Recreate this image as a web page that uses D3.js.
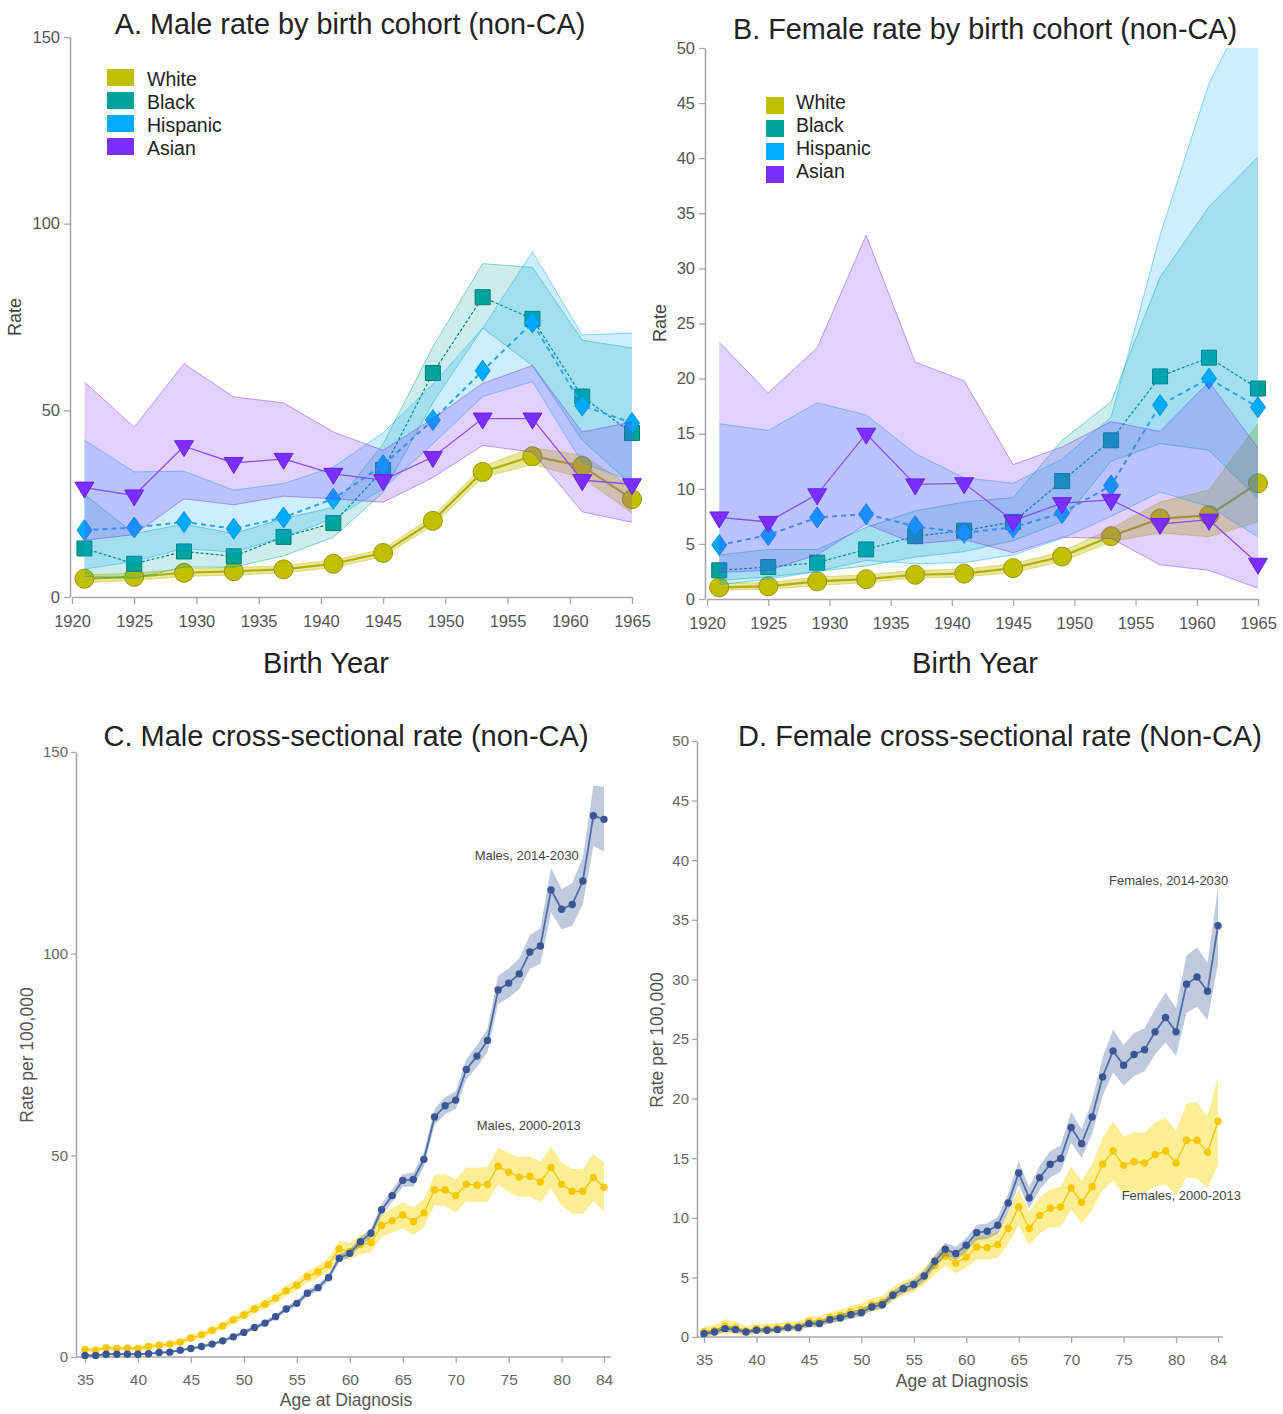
<!DOCTYPE html>
<html>
<head>
<meta charset="utf-8">
<script src="https://cdnjs.cloudflare.com/ajax/libs/d3/7.8.5/d3.min.js"></script>
<style>
  body { margin: 0; background: #fff; }
  svg { display: block; }
  text { font-family: "Liberation Sans", Arial, Helvetica, sans-serif; }
</style>
</head>
<body>
<svg id="chart" width="1283" height="1414"></svg>
<script>
// ---------- Birth-cohort panels (A, B) ----------
const cohortYears = [1921, 1925, 1929, 1933, 1937, 1941, 1945, 1949, 1953, 1957, 1961, 1965];
const cohortTicks = [1920, 1925, 1930, 1935, 1940, 1945, 1950, 1955, 1960, 1965];
const raceNames = ["White", "Black", "Hispanic", "Asian"];

// Male rates by birth cohort, with confidence limits
const maleWhite   = [4.9, 5.4, 6.5, 6.9, 7.4, 8.9, 11.8, 20.4, 33.5, 37.7, 35.1, 26.2];
const maleWhiteLo = [3.9, 4.4, 5.5, 5.9, 6.4, 7.9, 10.8, 19.2, 32.0, 35.5, 32.0, 22.5];
const maleWhiteHi = [5.9, 6.4, 7.5, 7.9, 8.4, 9.9, 12.8, 21.6, 35.0, 40.0, 38.0, 29.5];
const maleBlack   = [13.0, 8.9, 12.2, 10.9, 16.1, 19.8, 34.0, 60.0, 80.3, 74.5, 53.7, 43.9];
const maleBlackLo = [5.5, 5.0, 8.0, 8.0, 11.0, 16.0, 28.0, 52.0, 72.0, 62.0, 42.0, 30.0];
const maleBlackHi = [27.5, 17.0, 19.5, 17.0, 21.0, 24.0, 41.0, 67.0, 89.3, 88.3, 68.8, 66.7];
const maleHisp    = [17.9, 18.6, 20.1, 18.3, 21.3, 26.3, 35.3, 47.4, 60.6, 73.5, 51.3, 46.6];
const maleHispLo  = [7.5, 9.5, 13.0, 12.0, 16.0, 21.0, 29.0, 41.0, 53.7, 57.7, 36.0, 31.0];
const maleHispHi  = [42.0, 33.5, 33.7, 28.6, 30.4, 34.8, 44.0, 57.0, 72.0, 92.5, 70.2, 70.7];
const maleAsian   = [29.3, 27.2, 40.4, 35.9, 37.0, 33.0, 31.3, 37.5, 47.8, 47.8, 31.3, 30.2];
const maleAsianLo = [15.2, 16.7, 26.3, 24.7, 27.0, 26.3, 25.4, 32.0, 40.6, 38.8, 22.8, 20.0];
const maleAsianHi = [57.6, 45.5, 62.5, 53.6, 52.0, 44.2, 39.3, 47.8, 57.2, 62.0, 44.2, 46.9];

// Female rates by birth cohort, with confidence limits
const femWhite   = [1.06, 1.15, 1.6, 1.8, 2.2, 2.3, 2.8, 3.85, 5.7, 7.3, 7.6, 10.5];
const femWhiteLo = [0.8, 0.9, 1.2, 1.5, 1.9, 2.0, 2.4, 3.4, 5.2, 6.0, 5.65, 7.0];
const femWhiteHi = [1.4, 1.5, 2.0, 2.2, 2.6, 2.7, 3.2, 4.3, 6.4, 8.8, 9.9, 15.9];
const femBlack   = [2.6, 2.9, 3.3, 4.5, 5.7, 6.2, 7.0, 10.7, 14.4, 20.2, 21.9, 19.1];
const femBlackLo = [1.7, 2.0, 2.5, 3.0, 3.8, 4.3, 5.3, 7.0, 12.5, 14.1, 13.5, 9.1];
const femBlackHi = [4.0, 4.5, 4.5, 6.5, 8.0, 8.8, 9.2, 14.4, 17.9, 29.2, 35.6, 40.1];
const femHisp    = [4.9, 5.8, 7.4, 7.7, 6.6, 6.0, 6.5, 7.8, 10.3, 17.6, 20.0, 17.4];
const femHispLo  = [1.3, 1.8, 2.5, 3.5, 3.2, 3.3, 4.0, 5.5, 7.5, 9.7, 8.4, 5.65];
const femHispHi  = [15.9, 15.3, 17.8, 16.7, 13.2, 11.0, 10.5, 12.7, 16.5, 33.0, 46.8, 55.5];
const femAsian   = [7.4, 7.0, 9.5, 15.0, 10.4, 10.5, 7.1, 8.7, 9.0, 6.8, 7.2, 3.2];
const femAsianLo = [2.4, 2.6, 4.0, 6.8, 5.0, 5.4, 4.2, 5.6, 5.5, 3.1, 2.6, 0.97];
const femAsianHi = [23.3, 18.7, 22.8, 33.0, 21.5, 19.8, 12.2, 13.8, 16.1, 15.2, 19.7, 13.7];

// ---------- Cross-sectional panels (C, D) ----------
const ages = [35,36,37,38,39,40,41,42,43,44,45,46,47,48,49,50,51,52,53,54,
              55,56,57,58,59,60,61,62,63,64,65,66,67,68,69,70,71,72,73,74,
              75,76,77,78,79,80,81,82,83,84];
const ageTicks = [35, 40, 45, 50, 55, 60, 65, 70, 75, 80, 84];

const males2000 = [1.9,1.7,2.3,2.1,2.2,2.1,2.6,2.9,3.2,3.7,
                   4.7,5.5,6.6,7.7,9.2,10.4,11.9,13.1,14.6,16.4,
                   17.8,19.9,21.1,22.9,26.8,26.2,27.8,28.4,32.6,33.8,
                   35.2,33.6,35.7,41.4,41.4,40.0,42.8,42.6,42.8,47.3,
                   45.8,44.6,44.8,43.4,47.0,42.8,41.1,41.1,44.5,42.1];
const males2000CI = [0.6,0.6,0.6,0.6,0.6,0.6,0.6,0.7,0.7,0.7,
                     0.8,0.8,0.9,0.9,1.0,1.0,1.1,1.1,1.2,1.3,
                     1.4,1.5,1.6,1.7,2.0,2.1,2.3,2.5,2.8,3.0,
                     3.3,3.4,3.5,3.7,4.0,4.1,4.2,4.3,4.4,4.6,
                     4.8,4.9,5.0,5.1,5.2,5.4,5.5,5.6,5.8,6.0];
const males2014 = [0.4,0.4,0.7,0.7,0.7,0.7,0.8,1.1,1.2,1.7,
                   2.1,2.6,3.2,4.0,5.0,6.1,7.3,8.4,10.0,11.9,
                   13.3,15.8,17.2,19.7,24.5,25.7,28.6,30.7,36.5,40.0,
                   43.8,44.0,49.0,59.5,62.3,63.7,71.3,74.6,78.5,91.0,
                   92.7,95.0,100.4,101.9,115.8,111.0,112.2,118.0,134.2,133.3];
const males2014CI = [0.3,0.3,0.3,0.3,0.3,0.3,0.3,0.3,0.3,0.3,
                     0.35,0.4,0.4,0.45,0.5,0.5,0.55,0.6,0.6,0.7,
                     0.7,0.8,0.8,0.9,1.0,1.0,1.1,1.2,1.4,1.5,
                     1.6,1.7,1.8,2.0,2.1,2.2,2.5,2.7,2.9,3.5,
                     3.6,3.8,4.2,4.4,5.5,5.0,5.3,5.8,7.5,8.0];

const females2000 = [0.45,0.55,0.9,0.75,0.5,0.7,0.7,0.75,0.9,0.9,
                     1.3,1.3,1.65,1.8,2.1,2.3,2.7,2.9,3.6,4.1,
                     4.4,5.1,6.0,6.8,6.2,6.7,7.55,7.5,7.75,9.1,
                     10.9,9.1,10.2,10.8,10.9,12.5,11.3,12.6,14.5,15.6,
                     14.4,14.7,14.6,15.3,15.6,14.6,16.5,16.5,15.5,18.1];
const females2000CI = [0.4,0.45,0.6,0.5,0.4,0.4,0.4,0.4,0.4,0.4,
                       0.45,0.45,0.45,0.5,0.5,0.5,0.55,0.55,0.6,0.6,
                       0.65,0.7,0.75,0.8,0.85,0.9,1.0,1.0,1.1,1.3,
                       1.5,1.4,1.5,1.6,1.7,1.8,1.8,1.9,2.2,2.5,
                       2.4,2.5,2.5,2.7,2.8,2.7,3.1,3.2,3.0,3.7];
const females2014 = [0.28,0.42,0.7,0.62,0.42,0.56,0.56,0.62,0.78,0.78,
                     1.12,1.12,1.45,1.6,1.87,2.04,2.52,2.71,3.5,4.06,
                     4.4,5.12,6.35,7.36,7.0,7.7,8.76,8.87,9.37,11.24,
                     13.76,11.66,13.37,14.49,14.97,17.57,16.22,18.46,21.82,24.0,
                     22.8,23.7,24.1,25.6,26.8,25.6,29.6,30.2,29.0,34.5];
const females2014CI = [0.2,0.2,0.25,0.25,0.2,0.2,0.2,0.2,0.2,0.2,
                       0.25,0.25,0.25,0.3,0.3,0.3,0.3,0.35,0.35,0.4,
                       0.4,0.45,0.5,0.55,0.55,0.6,0.65,0.65,0.7,0.8,
                       1.0,0.9,1.0,1.1,1.1,1.3,1.2,1.4,1.6,1.8,
                       1.7,1.8,1.8,1.9,2.1,2.0,2.4,2.5,2.4,3.2];

// ---------- Drawing ----------
const W = 1283, H = 1414;
const svg = d3.select("#chart");
const defs = svg.append("defs");

const raceStyle = {
  White:    { color: "#c2bf00", line: "#b2ae00", width: 2.2, dash: null,  band: 0.38, marker: "circle",   stroke: "#9a9700" },
  Black:    { color: "#00a39c", line: "#00857f", width: 1.2, dash: "3,2", band: 0.2,  marker: "square",   stroke: "#007f79" },
  Hispanic: { color: "#00aaff", line: "#2aa6f2", width: 2.0, dash: "5,4", band: 0.2,  marker: "diamond",  stroke: "#0095e0" },
  Asian:    { color: "#7a2eff", line: "#8c4cff", width: 1.3, dash: null,  band: 0.22, marker: "triangle", stroke: "#6a20ee" }
};

function markerPath(kind) {
  switch (kind) {
    case "square":   return "M-7.5,-7.5H7.5V7.5H-7.5Z";
    case "diamond":  return "M0,-10.5L7.5,0L0,10.5L-7.5,0Z";
    case "triangle": return "M-9.5,-5.5L9.5,-5.5L0,10.5Z";
    default:         return d3.arc()({ innerRadius: 0, outerRadius: 9.5, startAngle: 0, endAngle: 2 * Math.PI });
  }
}

function styleAxis(sel, size, color) {
  sel.selectAll(".domain").attr("stroke", "#a8a8a8").attr("stroke-width", 1.6);
  sel.selectAll(".tick line").attr("stroke", "#a8a8a8").attr("stroke-width", 1.3);
  sel.selectAll(".tick text").attr("fill", color || "#555").attr("font-size", size)
     .attr("font-family", '"Liberation Sans", Arial, sans-serif');
}

function drawCohort(p) {
  const x = d3.scaleLinear().domain([1920, 1965]).range([p.left, p.right]);
  const y = d3.scaleLinear().domain([0, p.yMax]).range([p.bottom, p.top]);
  const g = svg.append("g");
  const clipId = p.id + "-clip";
  defs.append("clipPath").attr("id", clipId)
    .append("rect").attr("x", 0).attr("y", p.top).attr("width", W).attr("height", p.bottom - p.top);

  const ya = g.append("g").attr("transform", `translate(${p.left - 2},0)`)
    .call(d3.axisLeft(y).tickValues(p.yTicks).tickSize(6).tickSizeOuter(0).tickPadding(4));
  styleAxis(ya, 16.5);
  const xa = g.append("g").attr("transform", `translate(0,${p.bottom})`)
    .call(d3.axisBottom(x).tickValues(cohortTicks).tickFormat(d3.format("d")).tickSize(7).tickSizeOuter(0).tickPadding(11));
  styleAxis(xa, 16.5);

  p.series.forEach(s => {
    const st = raceStyle[s.name];
    const pts = cohortYears.map((yr, i) => ({ yr, v: s.values[i], lo: s.lo[i], hi: s.hi[i] }));
    const sg = g.append("g");
    sg.append("path").datum(pts)
      .attr("d", d3.area().x(d => x(d.yr)).y0(d => y(d.lo)).y1(d => y(d.hi)))
      .attr("fill", st.color).attr("fill-opacity", st.band)
      .attr("clip-path", `url(#${clipId})`);
    ["lo", "hi"].forEach(k => {
      sg.append("path").datum(pts)
        .attr("d", d3.line().x(d => x(d.yr)).y(d => y(d[k])))
        .attr("fill", "none").attr("stroke", st.color).attr("stroke-opacity", 0.45).attr("stroke-width", 1)
        .attr("clip-path", `url(#${clipId})`);
    });
    sg.append("path").datum(pts)
      .attr("d", d3.line().x(d => x(d.yr)).y(d => y(d.v)))
      .attr("fill", "none").attr("stroke", st.line).attr("stroke-width", st.width)
      .attr("stroke-dasharray", st.dash);
    sg.selectAll("path.mk").data(pts).join("path").attr("class", "mk")
      .attr("transform", d => `translate(${x(d.yr)},${y(d.v)})`)
      .attr("d", markerPath(st.marker))
      .attr("fill", st.color).attr("stroke", st.stroke).attr("stroke-width", 1);
  });

  // legend
  raceNames.forEach((name, i) => {
    const yy = p.legend.y + i * 23;
    g.append("rect").attr("x", p.legend.x).attr("y", yy).attr("width", p.legend.w).attr("height", 17)
      .attr("fill", raceStyle[name].color);
    g.append("text").attr("x", p.legend.tx).attr("y", yy + p.legend.dy).text(name)
      .attr("font-size", 19.5).attr("fill", "#222");
  });

  svg.append("text").attr("x", p.titleX).attr("y", p.titleY).attr("text-anchor", "middle")
    .attr("font-size", 28.8).attr("fill", "#222").text(p.title);
  svg.append("text").attr("text-anchor", "middle").attr("font-size", 29).attr("fill", "#222")
    .attr("x", p.xLabelX).attr("y", 673).text("Birth Year");
  svg.append("text").attr("text-anchor", "middle").attr("font-size", 18).attr("fill", "#444")
    .attr("transform", `translate(${p.yLabelX},${p.yLabelY}) rotate(-90)`).text("Rate");
}

drawCohort({
  id: "pa", title: "A. Male rate by birth cohort (non-CA)", titleX: 350, titleY: 34,
  left: 72, right: 632, top: 37, bottom: 597, yMax: 150, yTicks: [0, 50, 100, 150],
  xLabelX: 326, yLabelX: 21, yLabelY: 317,
  legend: { x: 107, y: 69, w: 27, tx: 147, dy: 16.5 },
  series: [
    { name: "White",    values: maleWhite, lo: maleWhiteLo, hi: maleWhiteHi },
    { name: "Black",    values: maleBlack, lo: maleBlackLo, hi: maleBlackHi },
    { name: "Hispanic", values: maleHisp,  lo: maleHispLo,  hi: maleHispHi },
    { name: "Asian",    values: maleAsian, lo: maleAsianLo, hi: maleAsianHi }
  ]
});

drawCohort({
  id: "pb", title: "B. Female rate by birth cohort (non-CA)", titleX: 985, titleY: 39,
  left: 707, right: 1258, top: 48, bottom: 599, yMax: 50, yTicks: [0, 5, 10, 15, 20, 25, 30, 35, 40, 45, 50],
  xLabelX: 975, yLabelX: 666, yLabelY: 323,
  legend: { x: 766, y: 97, w: 18, tx: 796, dy: 12 },
  series: [
    { name: "White",    values: femWhite, lo: femWhiteLo, hi: femWhiteHi },
    { name: "Black",    values: femBlack, lo: femBlackLo, hi: femBlackHi },
    { name: "Hispanic", values: femHisp,  lo: femHispLo,  hi: femHispHi },
    { name: "Asian",    values: femAsian, lo: femAsianLo, hi: femAsianHi }
  ]
});

function drawCross(p) {
  const x = d3.scaleLinear().domain([35, 84]).range([p.left, p.right]);
  const y = d3.scaleLinear().domain([0, p.yMax]).range([p.bottom, p.top]);
  const g = svg.append("g");

  g.append("line").attr("x1", p.axisX).attr("x2", p.axisEnd).attr("y1", p.bottom).attr("y2", p.bottom)
    .attr("stroke", "#a8a8a8").attr("stroke-width", 1.6);
  const ya = g.append("g").attr("transform", `translate(${p.axisX},0)`)
    .call(d3.axisLeft(y).tickValues(p.yTicks).tickSize(5).tickSizeOuter(0).tickPadding(3));
  styleAxis(ya, 15, "#666");
  const xa = g.append("g").attr("transform", `translate(0,${p.bottom})`)
    .call(d3.axisBottom(x).tickValues(ageTicks).tickSize(6).tickSizeOuter(0).tickPadding(11));
  xa.select(".domain").remove();
  styleAxis(xa, 15.5, "#666");

  p.series.forEach(s => {
    const pts = ages.map((a, i) => ({ a, v: s.values[i], ci: s.ci[i] }));
    const sg = g.append("g");
    sg.append("path").datum(pts)
      .attr("d", d3.area().x(d => x(d.a)).y0(d => y(d.v - d.ci)).y1(d => y(d.v + d.ci)))
      .attr("fill", s.band).attr("fill-opacity", s.bandOpacity);
    sg.append("path").datum(pts)
      .attr("d", d3.line().x(d => x(d.a)).y(d => y(d.v)))
      .attr("fill", "none").attr("stroke", s.line).attr("stroke-width", s.width);
    sg.selectAll("circle").data(pts).join("circle")
      .attr("cx", d => x(d.a)).attr("cy", d => y(d.v)).attr("r", 3.7)
      .attr("fill", s.dot);
    svg.append("text").attr("x", x(s.labelAt[0])).attr("y", y(s.labelAt[1]))
      .attr("text-anchor", "middle").attr("font-size", 13).attr("fill", "#444").text(s.label);
  });

  svg.append("text").attr("x", p.titleX).attr("y", 746).attr("text-anchor", "middle")
    .attr("font-size", 29).attr("fill", "#222").text(p.title);
  svg.append("text").attr("x", p.xLabelX).attr("y", p.xLabelY).attr("text-anchor", "middle")
    .attr("font-size", 17.5).attr("fill", "#555").text("Age at Diagnosis");
  svg.append("text").attr("text-anchor", "middle").attr("font-size", 17.5).attr("fill", "#555")
    .attr("transform", `translate(${p.yLabelX},${p.yLabelY}) rotate(-90)`).text("Rate per 100,000");
}

const oldStyle = { band: "#f7d700", bandOpacity: 0.42, line: "#f2c500", width: 1.3, dot: "#f7c800" };
const newStyle = { band: "#3b5998", bandOpacity: 0.32, line: "#506da6", width: 1.8, dot: "#3a5794" };

drawCross({
  title: "C. Male cross-sectional rate (non-CA)", titleX: 346,
  left: 85, right: 604, top: 752, bottom: 1357, axisX: 76, axisEnd: 611,
  yMax: 150, yTicks: [0, 50, 100, 150],
  xLabelX: 346, xLabelY: 1406, yLabelX: 33, yLabelY: 1055,
  series: [
    Object.assign({ values: males2000, ci: males2000CI, label: "Males, 2000-2013", labelAt: [76.9, 56.2] }, oldStyle),
    Object.assign({ values: males2014, ci: males2014CI, label: "Males, 2014-2030", labelAt: [76.7, 123.2] }, newStyle)
  ]
});

drawCross({
  title: "D. Female cross-sectional rate (Non-CA)", titleX: 1000,
  left: 704, right: 1218, top: 741, bottom: 1337, axisX: 697, axisEnd: 1223,
  yMax: 50, yTicks: [0, 5, 10, 15, 20, 25, 30, 35, 40, 45, 50],
  xLabelX: 962, xLabelY: 1387, yLabelX: 663, yLabelY: 1040,
  series: [
    Object.assign({ values: females2000, ci: females2000CI, label: "Females, 2000-2013", labelAt: [80.5, 11.5] }, oldStyle),
    Object.assign({ values: females2014, ci: females2014CI, label: "Females, 2014-2030", labelAt: [79.3, 37.9] }, newStyle)
  ]
});
</script>
</body>
</html>
